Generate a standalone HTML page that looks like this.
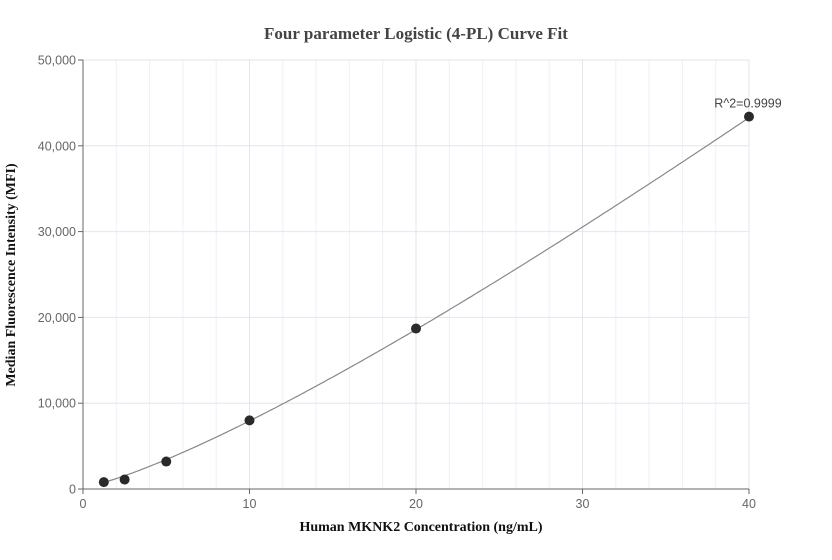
<!DOCTYPE html>
<html><head><meta charset="utf-8"><style>
body{margin:0;background:#fff}
svg{display:block}
</style></head><body>
<svg id="chart" width="832" height="560" xmlns="http://www.w3.org/2000/svg">
<text x="416" y="39" text-anchor="middle" font-family="Liberation Serif, serif" font-weight="bold" font-size="17" fill="#444">Four parameter Logistic (4-PL) Curve Fit</text>
<text x="421" y="531" text-anchor="middle" font-family="Liberation Serif, serif" font-weight="bold" font-size="14" fill="#111">Human MKNK2 Concentration (ng/mL)</text>
<text transform="translate(15,275) rotate(-90)" text-anchor="middle" font-family="Liberation Serif, serif" font-weight="bold" font-size="14" fill="#111">Median Fluorescence Intensity (MFI)</text>
<g id="grid"></g><g id="axes"></g><g id="curve"></g><g id="points"></g>
</svg>
<script>
const xTicks=[0,10,20,30,40];
const yTicks=[0,10000,20000,30000,40000,50000];
const yTickLabels=["0","10,000","20,000","30,000","40,000","50,000"];
const concentrations=[1.25,2.5,5,10,20,40];
const mfiValues=[800,1100,3200,8000,18700,43400];
const fitParams=[200,1.265,464,1000000]; // A,B,C,D
const rSquaredLabel="R^2=0.9999";
const NS="http://www.w3.org/2000/svg";
const X0=83,X1=749,Y0=489,Y1=60;
const sx=v=>X0+(v-0)/(40-0)*(X1-X0);
const sy=v=>Y0-(v-0)/(50000-0)*(Y0-Y1);
function mk(tag,attrs,parent){const e=document.createElementNS(NS,tag);for(const k in attrs)e.setAttribute(k,attrs[k]);document.getElementById(parent).appendChild(e);return e;}
for(let v=2;v<=40;v+=2){const l=mk('line',{x1:sx(v),x2:sx(v),y1:Y1,y2:Y0,stroke:v%10===0?'#e3e6f0':'#eef0f7','stroke-width':1},'grid');

}
yTicks.forEach((v,i)=>{if(v>0){const l=mk('line',{x1:X0,x2:X1,y1:sy(v),y2:sy(v),stroke:'#e3e6f0','stroke-width':1},'grid');

}
const t=mk('line',{x1:X0-5,x2:X0,y1:sy(v),y2:sy(v),stroke:'#666'},'axes');


const tx=mk('text',{x:X0-7,y:sy(v)+4.5,'text-anchor':'end','font-family':'Liberation Sans, sans-serif','font-size':12.5,fill:'#666'},'axes');tx.textContent=yTickLabels[i];

});
xTicks.forEach(v=>{const t=mk('line',{x1:sx(v),x2:sx(v),y1:Y0,y2:Y0+5,stroke:'#666'},'axes');


const tx=mk('text',{x:sx(v),y:Y0+19,'text-anchor':'middle','font-family':'Liberation Sans, sans-serif','font-size':12.5,fill:'#666'},'axes');tx.textContent=String(v);

});
const ya=mk('line',{x1:X0,x2:X0,y1:Y1,y2:Y0,stroke:'#666'},'axes');


const xa=mk('line',{x1:X0,x2:X1,y1:Y0,y2:Y0,stroke:'#666'},'axes');


const [A,B,C,D]=fitParams;
const f=x=>D+(A-D)/(1+Math.pow(x/C,B));
let d='';const xmin=concentrations[0],xmax=concentrations[concentrations.length-1];
for(let i=0;i<=200;i++){const x=xmin+(xmax-xmin)*i/200;d+=(i?'L':'M')+sx(x).toFixed(1)+','+sy(f(x)).toFixed(1);}
const p=mk('path',{d:d,fill:'none',stroke:'#888','stroke-width':1.2},'curve');


concentrations.forEach((c,i)=>{const pt=mk('circle',{cx:sx(c),cy:sy(mfiValues[i]),r:5,fill:'#2a2a2a'},'points');

});
const li=concentrations.length-1;
const rl=mk('text',{x:sx(concentrations[li])-1,y:sy(mfiValues[li])-9,'text-anchor':'middle','font-family':'Liberation Sans, sans-serif','font-size':12.5,fill:'#444'},'points');rl.textContent=rSquaredLabel;


</script>
</body></html>
